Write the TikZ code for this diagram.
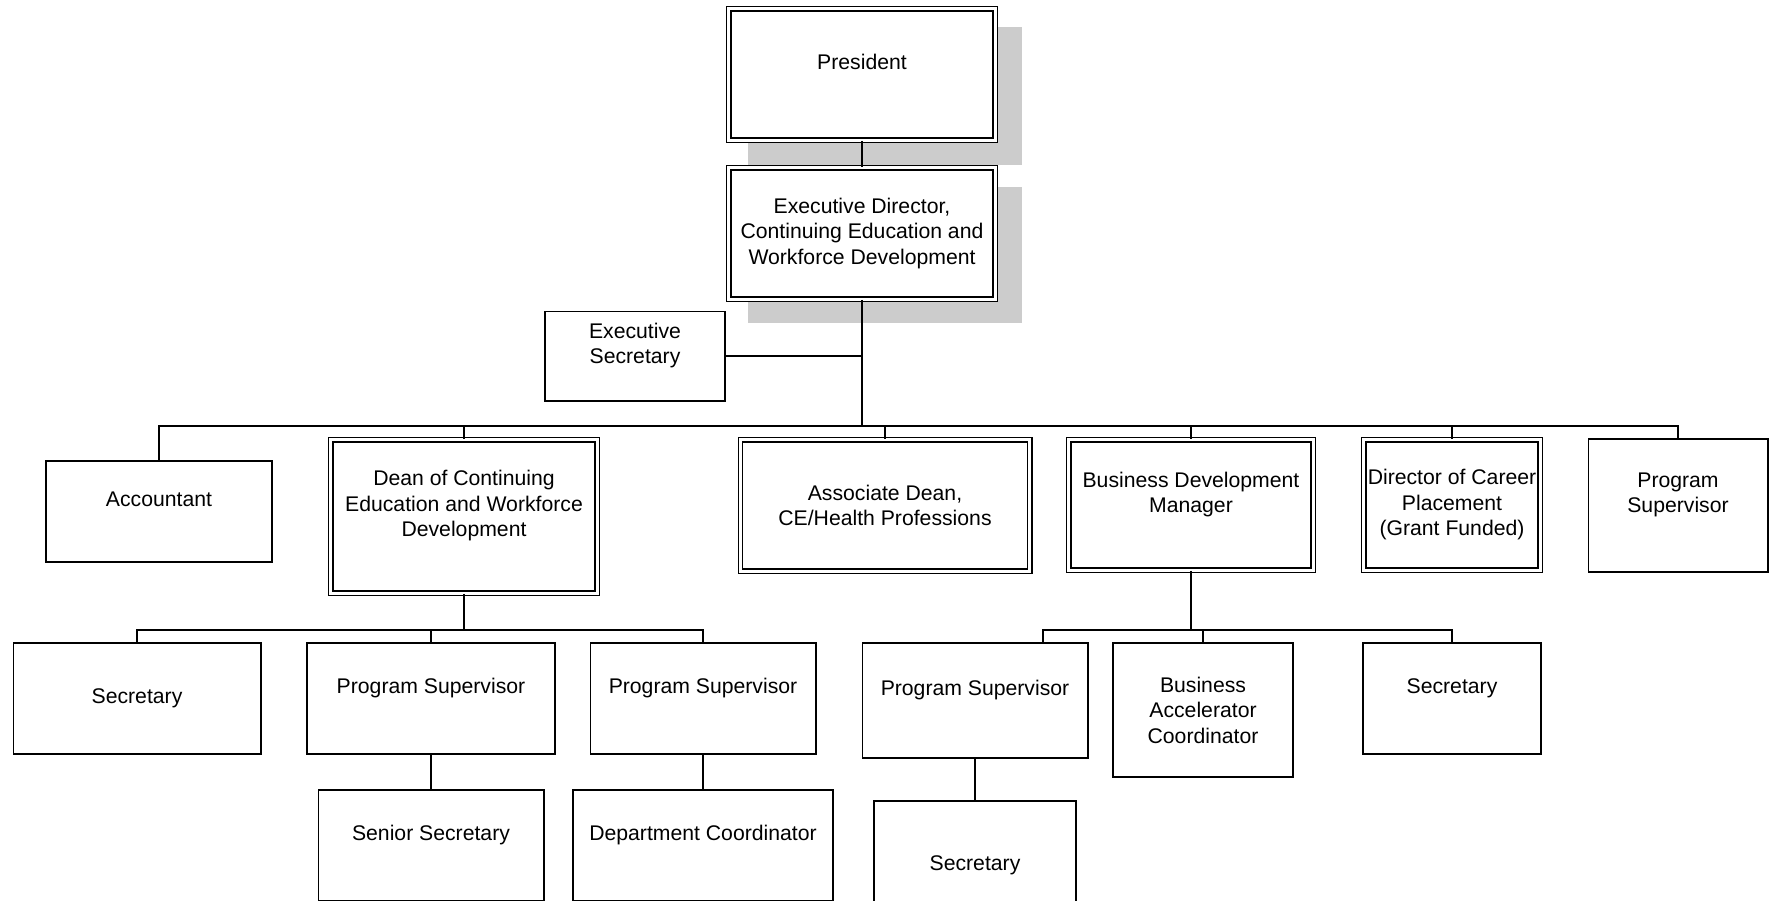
\documentclass[tikz,border=0pt]{standalone}
\usepackage{fontspec}
\setmainfont{Liberation Sans}
\usepackage{xcolor}
\definecolor{shadowgray}{RGB}{204,204,204}

\begin{document}
\begin{tikzpicture}[x=0.5pt,y=0.5pt,yscale=-1,xscale=1,
  box/.style={draw, fill=white, line width=0.9pt, inner sep=0pt, align=center, font=\fontsize{10.6}{12.75}\selectfont},
  dbox/.style={box, double, line width=0.7pt, double distance=1.4pt},
  wire/.style={line width=0.9pt},
  shadowbox/.style={fill=shadowgray}]

\useasboundingbox (0,0) rectangle (1773,900);
\clip (0,0) rectangle (1773,900);

\fill[shadowbox] (748,27) rectangle (1022,165);
\fill[shadowbox] (748,187) rectangle (1022,323);

\node[dbox, minimum width=133.2pt, minimum height=65.7pt] (pres) at (862,74.5) {President\\~};
\node[dbox, minimum width=133.2pt, minimum height=65.7pt] (exdir) at (862,233.5) {Executive Director,\\Continuing Education and\\Workforce Development};
\node[box, minimum width=90.1pt, minimum height=44.6pt] (exsec) at (635,356) {Executive\\Secretary\\~};

\node[box, minimum width=113.1pt, minimum height=50.6pt] (acct) at (159,511.5) {Accountant\\~};
\node[dbox, minimum width=133.2pt, minimum height=76.7pt] (dean) at (464,516.5) {Dean of Continuing\\Education and Workforce\\Development\\~};
\node[dbox, minimum width=144.7pt, minimum height=65.7pt] (assoc) at (885,505.5) {Associate Dean,\\CE/Health Professions};
\node[dbox, minimum width=122.2pt, minimum height=65.2pt] (bdm) at (1191,505) {Business Development\\Manager\\~};
\node[dbox, minimum width=88.2pt, minimum height=65.2pt] (dcp) at (1452,505) {Director of Career\\Placement\\(Grant Funded)};
\node[box, minimum width=89.6pt, minimum height=66.6pt] (progR) at (1678,505.5) {Program\\Supervisor\\~};

\node[box, minimum width=123.6pt, minimum height=55.6pt] (sec1) at (137,698.5) {Secretary};
\node[box, minimum width=124.1pt, minimum height=55.6pt] (prog1) at (431,698.5) {Program Supervisor\\~};
\node[box, minimum width=112.6pt, minimum height=55.6pt] (prog2) at (703,698.5) {Program Supervisor\\~};
\node[box, minimum width=112.6pt, minimum height=55.6pt] (srsec) at (431,845.5) {Senior Secretary\\~};
\node[box, minimum width=130.1pt, minimum height=55.6pt] (deptco) at (703,845.5) {Department Coordinator\\~};

\node[box, minimum width=112.6pt, minimum height=57.6pt] (prog3) at (975,700.5) {Program Supervisor\\~};
\node[box, minimum width=90.1pt, minimum height=67.1pt] (bacc) at (1203,710) {Business\\Accelerator\\Coordinator};
\node[box, minimum width=89.1pt, minimum height=55.6pt] (sec3) at (1452,698.5) {Secretary\\~};
\node[box, minimum width=101.1pt, minimum height=64.1pt] (sec4) at (975,865) {Secretary};

\coordinate (bus) at (862,426);
\coordinate (deanbus) at (464,630);
\coordinate (bdmbus) at (1191,630);
\coordinate (prog3in) at (1043,630);

\draw[wire] (pres) -- (exdir);
\draw[wire] (exdir.south) -- (bus);
\draw[wire] (exsec.east) -- (exsec.east -| exdir.south);
\foreach \n in {acct,dean,assoc,bdm,dcp,progR}
  \draw[wire] (bus) -| (\n.north);

\draw[wire] (dean.south) -- (deanbus);
\foreach \n in {sec1,prog1,prog2}
  \draw[wire] (deanbus) -| (\n.north);
\draw[wire] (prog1) -- (srsec);
\draw[wire] (prog2) -- (deptco);

\draw[wire] (bdm.south) -- (bdmbus);
\draw[wire] (bdmbus) -- (prog3in) -- (prog3in |- prog3.north);
\foreach \n in {bacc,sec3}
  \draw[wire] (bdmbus) -| (\n.north);
\draw[wire] (prog3) -- (sec4);

\end{tikzpicture}
\end{document}
